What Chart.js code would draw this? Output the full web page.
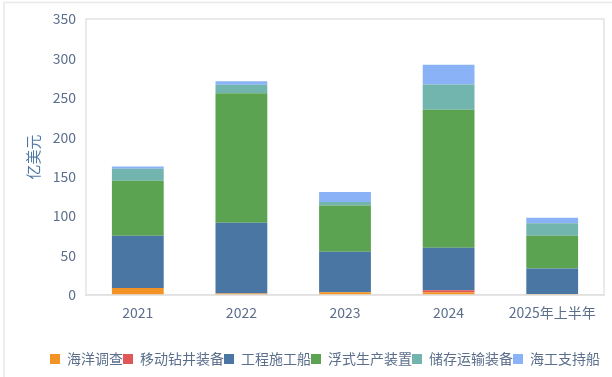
<!DOCTYPE html>
<html>
<head>
<meta charset="utf-8">
<script src="https://cdn.jsdelivr.net/npm/chart.js@4/dist/chart.umd.min.js"></script>
<style>
  html, body { margin: 0; padding: 0; background: #fff; }
  #wrap { width: 612px; height: 377px; position: relative; }
</style>
</head>
<body>
<div id="wrap"><canvas id="c" width="612" height="377"></canvas></div>
<script>
// 数据（亿美元）
const years = ['2021', '2022', '2023', '2024', '2025年上半年'];
const survey   = [9, 2, 3.5, 3.5, 1];         // 海洋调查
const drilling = [0, 0, 0, 2.5, 0];           // 移动钻井装备
const engineer = [66, 89.5, 51.5, 54, 32.5];  // 工程施工船
const floating = [70, 164.5, 58.5, 175, 41.5]; // 浮式生产装置
const storage  = [15, 10.5, 4.5, 32, 16];     // 储存运输装备
const support  = [3, 4.5, 12.5, 25, 7];       // 海工支持船
const yTicks = [0, 50, 100, 150, 200, 250, 300, 350];

const textColor = '#5b6f8c';
const fontFamily = "'Noto Sans CJK SC', 'Noto Sans', sans-serif";

// 绘图区外框 + 页面边框
const frame = {
  id: 'frame',
  afterLayout(chart) {
    // 图例在原图中略偏右
    chart.legend.left += 23;
    chart.legend.right += 23;
  },
  afterDraw(chart) {
    const { ctx, chartArea: a } = chart;
    ctx.save();
    ctx.strokeStyle = '#e3e3e3';
    ctx.lineWidth = 1.5;
    ctx.strokeRect(a.left, a.top, a.right - a.left, a.bottom - a.top);
    ctx.strokeStyle = '#e8e8e8';
    ctx.beginPath();
    ctx.moveTo(4, 377); ctx.lineTo(4, 2.5); ctx.lineTo(612, 2.5);
    ctx.stroke();
    ctx.restore();
  }
};

const ds = (label, data, color) => ({
  label, data, backgroundColor: color, borderWidth: 0,
  barPercentage: 0.5, categoryPercentage: 1
});

new Chart(document.getElementById('c'), {
  type: 'bar',
  data: {
    labels: years,
    datasets: [
      ds('海洋调查', survey, '#f39325'),
      ds('移动钻井装备', drilling, '#e15759'),
      ds('工程施工船', engineer, '#4a76a4'),
      ds('浮式生产装置', floating, '#5ba350'),
      ds('储存运输装备', storage, '#72b5ae'),
      ds('海工支持船', support, '#8ab2f7')
    ]
  },
  plugins: [frame],
  options: {
    responsive: false,
    animation: false,
    layout: { padding: { top: 19, right: 8, bottom: 1, left: 0 } },
    plugins: {
      tooltip: { enabled: false },
      legend: {
        position: 'bottom',
        labels: {
          boxWidth: 10, boxHeight: 10, padding: 0,
          color: textColor,
          font: { family: fontFamily, size: 14 }
        }
      }
    },
    scales: {
      x: {
        stacked: true,
        grid: { display: false, drawTicks: false },
        border: { display: true, color: '#d9d9d9', width: 1.5 },
        ticks: { color: textColor, padding: 9, font: { family: fontFamily, size: 14 } },
        afterFit(s) { s.height = 57; }
      },
      y: {
        stacked: true,
        min: 0, max: 350,
        afterBuildTicks(s) { s.ticks = yTicks.map(v => ({ value: v })); },
        grid: { display: false, drawTicks: false },
        border: { display: false },
        ticks: { color: textColor, padding: 10, font: { family: fontFamily, size: 14 } },
        title: {
          display: true, text: '亿美元', color: '#4e79a7',
          padding: { top: 24, bottom: 0 },
          font: { family: fontFamily, size: 15 }
        },
        afterFit(s) { s.width = 86; }
      }
    }
  }
});
</script>
</body>
</html>
